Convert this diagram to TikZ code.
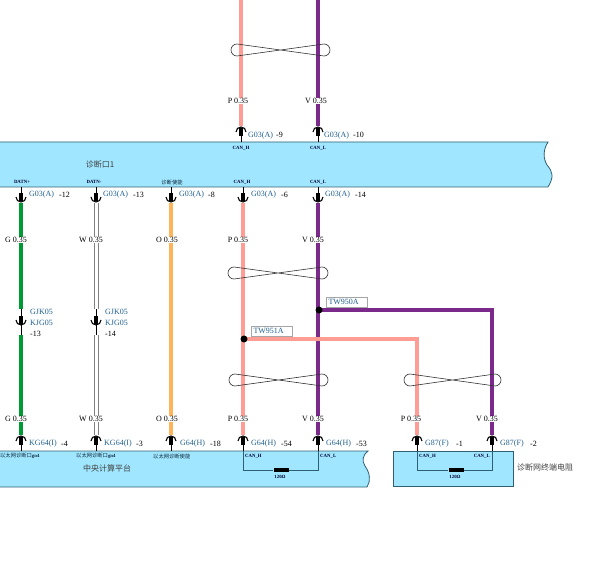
\documentclass[tikz,border=0pt]{standalone}
\usepackage{fontspec}
\setmainfont{Liberation Serif}
\newfontfamily\cjk{Noto Sans CJK SC}
\definecolor{boxblue}{HTML}{A0E6FF}
\definecolor{boxline}{HTML}{2F5F73}
\definecolor{partblue}{HTML}{1F5F8F}
\definecolor{wgreen}{HTML}{009933}
\definecolor{wpink}{HTML}{FF9C94}
\definecolor{wpurple}{HTML}{7B2A8C}
\definecolor{worange}{HTML}{FFB45A}
\tikzset{
    wire/.style={line width=4.5pt},
    wirewhite/.style={draw=gray,double=white,double distance=3pt,line width=1pt},
    stem/.style={line width=0.7pt,black},
    part/.style={font=\fontsize{8}{9}\selectfont,text=partblue,inner sep=0pt,anchor=west},
    pinno/.style={font=\fontsize{8}{9}\selectfont,inner sep=0pt,anchor=west},
    gauge/.style={font=\fontsize{8}{9}\selectfont,fill=white,inner xsep=0.5pt,inner ysep=0.5pt},
    tiny/.style={font=\bfseries\fontsize{4.8}{5}\selectfont,inner sep=0pt,text=black!80!blue},
    tinycjk/.style={font=\cjk\fontsize{5.3}{6}\selectfont,inner sep=0pt,text=black!60!partblue},
    boxname/.style={font=\cjk\fontsize{8}{9}\selectfont,inner sep=0pt,text=black!75},
    splice/.style={draw=black!35,fill=white,font=\fontsize{8}{9}\selectfont,text=partblue,inner xsep=2pt,inner ysep=0pt,text width=37pt,minimum height=10pt},
    dot/.style={circle,fill=black,inner sep=0pt,minimum size=7pt},
    harness/.style={line width=1pt,boxline},
    res/.style={fill=black,inner sep=0pt,minimum width=15pt,minimum height=4pt},
    twistline/.style={line width=0.6pt,black!80},
    pinup/.pic={
        \draw[line width=1.1pt] (-5,5) arc (180:360:5);
        \fill (-2,1) rectangle (2,9);
        \draw[stem] (0,9) -- (0,15);
    },
    pindown/.pic={
        \draw[line width=1.1pt] (-5,-5) arc (180:0:5);
        \fill (-2,-1) rectangle (2,-9);
        \draw[stem] (0,-9) -- (0,-15);
    },
}
\begin{document}
\begin{tikzpicture}[x=1pt,y=-1pt]
    \useasboundingbox (0,0) rectangle (600,561);

    % boxes
    \draw[boxline,fill=boxblue,line width=0.8pt] (0,142) -- (548,142) .. controls (543,150) and (543,158) .. (547,165) .. controls (553,172) and (554,177) .. (548,187) -- (0,187);
    \draw[boxline,fill=boxblue,line width=0.8pt] (0,451) -- (368,451) .. controls (362,456) and (362,461) .. (365,466) .. controls (370,473) and (371,481) .. (367,487) -- (0,487);
    \draw[boxline,fill=boxblue,line width=0.8pt] (393,451) rectangle (513,486);
    \node[boxname] (hubname) at (100,164) {诊断口1};
    \node[boxname] (ccpname) at (107,468) {中央计算平台};
    \node[boxname,anchor=west] (resname) at (517,467) {诊断网终端电阻};

    % wire ends
    \coordinate (T1) at (241,0);
    \coordinate (T2) at (318,0);
    \coordinate (A1) at (241,126);
    \coordinate (A2) at (318,126);
    \coordinate (B1) at (21,203);
    \coordinate (B2) at (96,203);
    \coordinate (B3) at (171,203);
    \coordinate (B4) at (243,203);
    \coordinate (B5) at (318,203);
    \coordinate (M1) at (21,309);
    \coordinate (M2) at (96,309);
    \coordinate (N1) at (21,335);
    \coordinate (N2) at (96,335);
    \coordinate (C1) at (21,435);
    \coordinate (C2) at (96,435);
    \coordinate (C3) at (171,435);
    \coordinate (C4) at (243,435);
    \coordinate (C5) at (318,435);
    \coordinate (C6) at (417,435);
    \coordinate (C7) at (492,435);
    \coordinate (J1) at (244,339);
    \coordinate (J2) at (319,310);
    \coordinate (K1) at (417,339);
    \coordinate (K2) at (492,310);

    % wires
    \draw[wire,wpink] (T1) -- (A1);
    \draw[wire,wpurple] (T2) -- (A2);
    \draw[wire,wgreen] (B1) -- (M1);
    \draw[wire,wgreen] (N1) -- (C1);
    \draw[wirewhite] (B2) -- (M2);
    \draw[wirewhite] (N2) -- (C2);
    \draw[wire,worange] (B3) -- (C3);
    \draw[wire,wpink] (B4) -- (C4);
    \draw[wire,wpurple] (B5) -- (C5);
    \draw[wire,wpurple] (J2) -- (K2) -- (C7);
    \draw[wire,wpink] (J1) -- (K1) -- (C6);
    \node[dot] (dot950) at (J2) {};
    \node[dot] (dot951) at (J1) {};
    \node[splice] (tw950) at (347,302) {TW950A};
    \node[splice] (tw951) at (272,331) {TW951A};

    % twists
    \draw[twistline] (237,44) arc (270:90:6) -- (324,44) arc (-90:90:6) -- cycle;
    \draw[twistline] (234,267) arc (270:90:6) -- (322,267) arc (-90:90:6) -- cycle;
    \draw[twistline] (235,374) arc (270:90:6) -- (322,374) arc (-90:90:6) -- cycle;
    \draw[twistline] (410,374) arc (270:90:6) -- (495,374) arc (-90:90:6) -- cycle;

    % gauges
    \node[gauge] (g1) at (238,101) {P 0.35};
    \node[gauge] (g2) at (316,101) {V 0.35};
    \node[gauge] (g3) at (16,240) {G 0.35};
    \node[gauge] (g4) at (91,240) {W 0.35};
    \node[gauge] (g5) at (167,240) {O 0.35};
    \node[gauge] (g6) at (238,240) {P 0.35};
    \node[gauge] (g7) at (313,240) {V 0.35};
    \node[gauge] (g8) at (16,419) {G 0.35};
    \node[gauge] (g9) at (91,419) {W 0.35};
    \node[gauge] (g10) at (167,419) {O 0.35};
    \node[gauge] (g11) at (238,419) {P 0.35};
    \node[gauge] (g12) at (313,419) {V 0.35};
    \node[gauge] (g13) at (411,419) {P 0.35};
    \node[gauge] (g14) at (487,419) {V 0.35};

    % pins
    \pic at (241,127) {pinup};
    \pic at (318,127) {pinup};
    \pic at (21,202) {pindown};
    \pic at (96,202) {pindown};
    \pic at (171,202) {pindown};
    \pic at (243,202) {pindown};
    \pic at (318,202) {pindown};
    \draw[stem] (M1) -- (N1);
    \draw[stem] (M2) -- (N2);
    \pic at (21,325) {pindown};
    \pic at (96,325) {pindown};
    \pic at (21,436) {pinup};
    \pic at (96,436) {pinup};
    \pic at (171,436) {pinup};
    \pic at (243,436) {pinup};
    \pic at (318,436) {pinup};
    \pic at (417,436) {pinup};
    \pic at (492,436) {pinup};

    % part numbers
    \node[part] (p1) at (248,136) {G03(A)};
    \node[pinno] (n1) at (276,135) {-9};
    \node[part] (p2) at (324,136) {G03(A)};
    \node[pinno] (n2) at (353,135) {-10};
    \node[part] (p3) at (29,195) {G03(A)};
    \node[pinno] (n3) at (59,195) {-12};
    \node[part] (p4) at (103,195) {G03(A)};
    \node[pinno] (n4) at (133,195) {-13};
    \node[part] (p5) at (179,195) {G03(A)};
    \node[pinno] (n5) at (208,195) {-8};
    \node[part] (p6) at (251,195) {G03(A)};
    \node[pinno] (n6) at (281,195) {-6};
    \node[part] (p7) at (325,195) {G03(A)};
    \node[pinno] (n7) at (355,195) {-14};
    \node[part] (p8) at (30,312) {GJK05};
    \node[part] (p9) at (30,323) {KJG05};
    \node[pinno] (n8) at (30,334) {-13};
    \node[part] (p10) at (105,312) {GJK05};
    \node[part] (p11) at (105,323) {KJG05};
    \node[pinno] (n9) at (105,334) {-14};
    \node[part] (p12) at (29,444) {KG64(I)};
    \node[pinno] (n10) at (61,444) {-4};
    \node[part] (p13) at (104,444) {KG64(I)};
    \node[pinno] (n11) at (136,444) {-3};
    \node[part] (p14) at (180,444) {G64(H)};
    \node[pinno] (n12) at (210,444) {-18};
    \node[part] (p15) at (251,444) {G64(H)};
    \node[pinno] (n13) at (281,444) {-54};
    \node[part] (p16) at (326,444) {G64(H)};
    \node[pinno] (n14) at (356,444) {-53};
    \node[part] (p17) at (425,444) {G87(F)};
    \node[pinno] (n15) at (456,444) {-1};
    \node[part] (p18) at (500,444) {G87(F)};
    \node[pinno] (n16) at (530,444) {-2};

    % pin names
    \node[tiny] (s1) at (241,148) {CAN\_H};
    \node[tiny] (s2) at (318,148) {CAN\_L};
    \node[tiny] (s3) at (22,182) {DATN+};
    \node[tiny] (s4) at (94,182) {DATN-};
    \node[tinycjk] (s5) at (172,182) {诊断使能};
    \node[tiny] (s6) at (242,182) {CAN\_H};
    \node[tiny] (s7) at (318,182) {CAN\_L};
    \node[tinycjk,anchor=west] (s8) at (0,456) {以太网诊断口\fontspec{Liberation Serif}\bfseries\fontsize{4.8}{5}\selectfont gn4};
    \node[tinycjk,anchor=west] (s9) at (76,456) {以太网诊断口\fontspec{Liberation Serif}\bfseries\fontsize{4.8}{5}\selectfont gn4};
    \node[tinycjk,anchor=west] (s10) at (153,456) {以太网诊断使能};
    \node[tiny,anchor=west] (s11) at (245,456) {CAN\_H};
    \node[tiny,anchor=west] (s12) at (320,456) {CAN\_L};
    \node[tiny,anchor=west] (s13) at (419,456) {CAN\_H};
    \node[tiny,anchor=east] (s14) at (490,456) {CAN\_L};

    % terminators
    \node[res] (r1) at (281,470) {};
    \node[res] (r2) at (456,470) {};
    \node[tiny] (o1) at (280,477) {120Ω};
    \node[tiny] (o2) at (455,477) {120Ω};
    \draw[harness] (243,451) |- (r1) -| (318,451);
    \draw[harness] (417,451) |- (r2) -| (492,451);
\end{tikzpicture}
\end{document}
